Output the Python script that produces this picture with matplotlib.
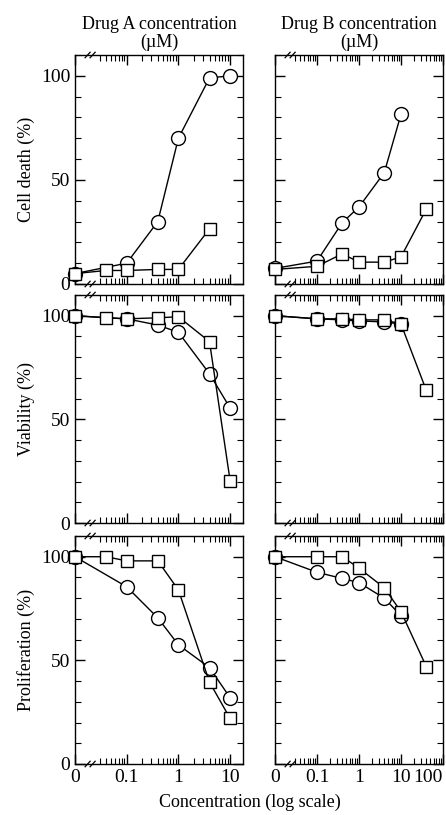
import numpy as np
import matplotlib as mpl
mpl.use('Agg')
import matplotlib.pyplot as plt
from matplotlib.ticker import FixedLocator, MultipleLocator, NullFormatter

mpl.rcParams['font.family'] = 'Liberation Serif'
mpl.rcParams['xtick.labelsize'] = 14
mpl.rcParams['ytick.labelsize'] = 14

# concentrations (0 is drawn at the axis break)
x_left_sq = [0, 0.04, 0.1, 0.4, 1, 4, 10]
x_left_ci = [0, 0.1, 0.4, 1, 4, 10]
x_right = [0, 0.1, 0.4, 1, 4, 10, 40]

# row 1
top_left_ci = [5, 10, 30, 70, 99, 100]
top_left_sq = [5, 6.5, 6.5, 7, 7, 26.5]
top_right_ci = [7.5, 11, 29.5, 37, 53.5, 81.5]
top_right_sq = [7, 8.5, 14.5, 10.5, 10.5, 13, 36]
# row 2
mid_left_ci = [100, 98.5, 95.5, 92, 72, 55.5]
mid_left_sq = [100, 99, 98.5, 99, 99.5, 87.5, 20.5]
mid_right_ci = [100, 98.5, 98, 97.5, 97, 96]
mid_right_sq = [100, 98.5, 98.5, 98, 98, 96, 64]
# row 3
bot_left_ci = [100, 85.5, 70.5, 57.5, 46.5, 32]
bot_left_sq = [100, 100, 98, 98, 84, 39.5, 22]
bot_right_ci = [100, 92.5, 89.5, 87.5, 80, 71.5]
bot_right_sq = [100, 100, 100, 94.5, 85, 73.5, 47]

left_ticks = ['0', '0.1', '1', '10']
right_ticks = ['0', '0.1', '1', '10', '100']
row_labels = ['Cell death (%)', 'Viability (%)', 'Proliferation (%)']
col_titles = ['Drug A concentration\n(\u00b5M)', 'Drug B concentration\n(\u00b5M)']
x_label = 'Concentration (log scale)'

W, H = 446., 815.
fig = plt.figure(figsize=(W / 100, H / 100), dpi=100)

# pixel extents and log10 x-limits of each column
cols = [(75, 243, -2.0, 1.25), (275, 443, -2.0, 2.0)]
rows = [(55, 284), (295, 523), (536, 764)]

data = [[(top_left_ci, top_left_sq), (top_right_ci, top_right_sq)],
        [(mid_left_ci, mid_left_sq), (mid_right_ci, mid_right_sq)],
        [(bot_left_ci, bot_left_sq), (bot_right_ci, bot_right_sq)]]


def zero_at(v, lo):
    return [10 ** lo if c == 0 else c for c in v]


for r, (y0, y1) in enumerate(rows):
    for c, (x0, x1, lo, hi) in enumerate(cols):
        ax = fig.add_axes([x0 / W, 1 - y1 / H, (x1 - x0) / W, (y1 - y0) / H])
        ax.set_xscale('log')
        ax.set_xlim(10 ** lo, 10 ** hi)
        ax.set_ylim(0, 110)
        ci, sq = data[r][c]
        if c == 0:
            xc, xs = x_left_ci[:len(ci)], x_left_sq[:len(sq)]
        else:
            xc, xs = x_right[:len(ci)], x_right[:len(sq)]
        ax.plot(zero_at(xc, lo), ci, 'k-', lw=1, marker='o', ms=10,
                mfc='white', mec='k', mew=1, clip_on=False, zorder=3)
        ax.plot(zero_at(xs, lo), sq, 'k-', lw=1, marker='s', ms=9,
                mfc='white', mec='k', mew=1, clip_on=False, zorder=3)

        # ticks
        majors = [10 ** lo, 0.1, 1, 10] + ([100] if c == 1 else [])
        ax.xaxis.set_major_locator(FixedLocator(majors))
        minors = []
        for d in range(-3, 3):
            for k in range(2, 10):
                v = k * 10.0 ** d
                if 10 ** (lo + 0.4) < v < 10 ** hi:
                    minors.append(v)
        ax.xaxis.set_minor_locator(FixedLocator(minors))
        ax.xaxis.set_minor_formatter(NullFormatter())
        ax.yaxis.set_major_locator(FixedLocator([0, 50, 100]))
        ax.yaxis.set_minor_locator(MultipleLocator(10))
        ax.tick_params(which='both', direction='in', top=True, right=True)
        ax.tick_params(which='major', length=7, width=1)
        ax.tick_params(which='minor', length=4, width=0.8)
        for s in ax.spines.values():
            s.set_linewidth(1)

        if r == 2:
            labs = ax.set_xticklabels(left_ticks if c == 0 else right_ticks)
            if c == 1:
                labs[-1].set_horizontalalignment('right')
        else:
            ax.set_xticklabels([])
        if c == 0:
            ax.set_yticklabels(['0', '50', '100'])
            ax.set_ylabel(row_labels[r], fontsize=13, labelpad=4)
        else:
            ax.set_yticklabels([])
        if r == 0:
            ax.set_title(col_titles[c], fontsize=13, pad=6, linespacing=1.0)

        # axis break marks
        for yb in (0, 1):
            for xb in (0.06, 0.09):
                ax.plot([xb, xb + 0.03], [yb - 0.012, yb + 0.012], 'k-', lw=0.9,
                        transform=ax.transAxes, clip_on=False)

fig.text(0.56, 0.005, x_label, ha='center', va='bottom', fontsize=13)

plt.savefig('out.png', dpi=100)
